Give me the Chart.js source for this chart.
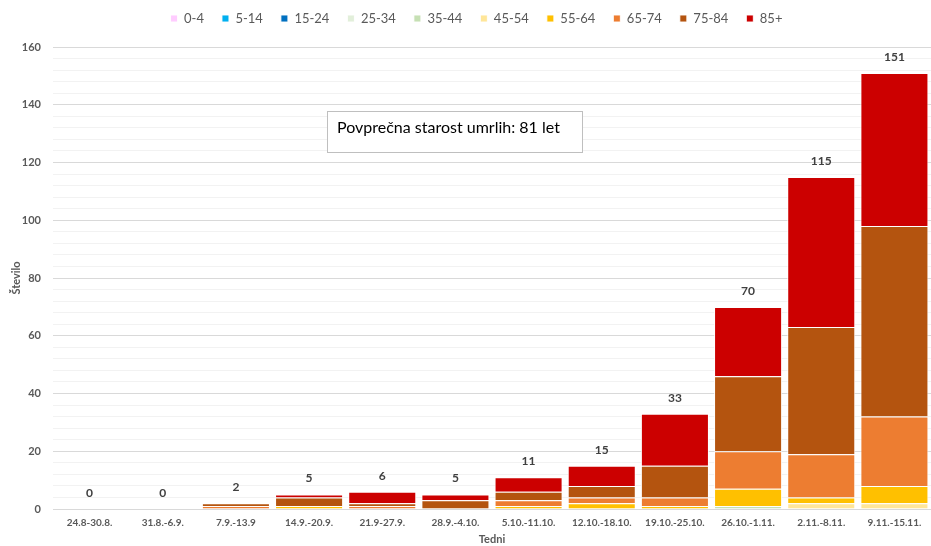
<!DOCTYPE html>
<html><head><meta charset="utf-8">
<script src="https://cdn.jsdelivr.net/npm/chart.js@4"></script>
<style>html,body{margin:0;padding:0;background:#fff;} #wrap{width:931px;height:546px;position:relative;}</style>
</head><body><div id="wrap"><canvas id="c" width="931" height="546"></canvas></div>
<script>
// ---- data ----
const categories = ['24.8-30.8.','31.8.-6.9.','7.9.-13.9','14.9.-20.9.','21.9-27.9.','28.9.-4.10.','5.10.-11.10.','12.10.-18.10.','19.10.-25.10.','26.10.-1.11.','2.11.-8.11.','9.11.-15.11.'];
const ageGroups = ['0-4','5-14','15-24','25-34','35-44','45-54','55-64','65-74','75-84','85+'];
const age0_4   = [0,0,0,0,0,0,0,0,0,0,0,0];
const age5_14  = [0,0,0,0,0,0,0,0,0,0,0,0];
const age15_24 = [0,0,0,0,0,0,0,0,0,0,0,0];
const age25_34 = [0,0,0,0,0,0,0,0,0,0,0,0];
const age35_44 = [0,0,0,0,0,0,0,0,0,1,0,0];
const age45_54 = [0,0,0,0,0,0,0,0,0,0,2,2];
const age55_64 = [0,0,0,1,0,0,1,2,1,6,2,6];
const age65_74 = [0,0,1,0,1,0,2,2,3,13,15,24];
const age75_84 = [0,0,1,3,1,3,3,4,11,26,44,66];
const age85plus = [0,0,0,1,4,2,5,7,18,24,52,53];
const yTicks = [0,20,40,60,80,100,120,140,160];
const noteText = 'Povprečna starost umrlih: 81 let';

// ---- styles ----
const seriesValues = [age0_4, age5_14, age15_24, age25_34, age35_44, age45_54, age55_64, age65_74, age75_84, age85plus];
const seriesColors = ['#FFCCFF','#00B0F0','#0070C0','#E2EFDA','#C6E0B4','#FFE699','#FFC000','#ED7D31','#B4540F','#CC0000'];
const FONT = 'Lato';
const GREY = '#595959';

const datasets = ageGroups.map((g,i)=>({
  label: g,
  data: seriesValues[i],
  backgroundColor: seriesColors[i],
  borderColor: 'rgba(255,255,255,0.9)',
  borderWidth: 1,
  barPercentage: 0.93,
  categoryPercentage: 1.0
}));

const legendTweak = {
  id: 'legendTweak',
  beforeInit(chart){
    const lg = chart.legend;
    const fit = lg.fit;
    lg.fit = function(){ fit.call(this); this.height = 47; };
    const draw = lg.draw;
    lg.draw = function(){
      const ctx = this.ctx;
      ctx.save();
      ctx.translate(11, -6);
      draw.call(this);
      ctx.restore();
    };
  }
};

const totalsPlugin = {
  id: 'totals',
  afterDatasetsDraw(chart){
    const {ctx, scales:{x,y}} = chart;
    ctx.save();
    ctx.font = 'bold 12px ' + FONT;
    ctx.fillStyle = '#404040';
    ctx.textAlign = 'center';
    ctx.textBaseline = 'middle';
    categories.forEach((c,i)=>{
      const t = seriesValues.reduce((s,arr)=>s+arr[i],0);
      ctx.fillText(String(t), x.getPixelForValue(i), y.getPixelForValue(t)-16);
    });
    ctx.restore();
  }
};

const notePlugin = {
  id: 'note',
  afterDraw(chart){
    const ctx = chart.ctx;
    ctx.save();
    ctx.fillStyle = '#ffffff';
    ctx.fillRect(327.5,111.5,255,41);
    ctx.strokeStyle = '#BFBFBF';
    ctx.lineWidth = 1;
    ctx.strokeRect(327.5,111.5,255,41);
    ctx.fillStyle = '#000000';
    ctx.font = '16px ' + FONT;
    ctx.textAlign = 'left';
    ctx.textBaseline = 'alphabetic';
    ctx.fillText(noteText, 337, 133);
    ctx.restore();
  }
};

new Chart(document.getElementById('c'), {
  type: 'bar',
  data: { labels: categories, datasets },
  options: {
    responsive: false,
    animation: false,
    devicePixelRatio: 1,
    layout: { padding: 0 },
    plugins: {
      legend: {
        position: 'top',
        labels: {
          boxWidth: 7, boxHeight: 7, padding: 18,
          color: GREY,
          font: { family: FONT, size: 13 }
        }
      },
      tooltip: { enabled: false }
    },
    scales: {
      x: {
        stacked: true,
        grid: { display: false, drawTicks: false },
        border: { color: '#D9D9D9', width: 1 },
        ticks: { color: GREY, font: { family: FONT, size: 10, weight: 'bold' }, maxRotation: 0, autoSkip: false, padding: 8 },
        title: { display: true, text: 'Tedni', color: GREY, font: { family: FONT, size: 11, weight: 'bold' }, padding: { top: 0, bottom: 0 } },
        afterFit(s){ s.height = 37; }
      },
      y: {
        stacked: true,
        min: 0, max: 160,
        ticks: {
          stepSize: 4, autoSkip: false,
          callback: v => yTicks.includes(v) ? String(v) : '',
          color: GREY, font: { family: FONT, size: 11, weight: 'bold' }, padding: 12
        },
        grid: { color: c => (c.tick && yTicks.includes(c.tick.value)) ? '#D9D9D9' : '#F2F2F2', drawTicks: false },
        border: { display: false },
        title: { display: true, text: 'Število', color: GREY, font: { family: FONT, size: 11, weight: 'bold' }, padding: { top: 10, bottom: 0 } },
        afterFit(s){ s.width = 53; }
      }
    }
  },
  plugins: [legendTweak, totalsPlugin, notePlugin]
});
</script>
</body></html>
